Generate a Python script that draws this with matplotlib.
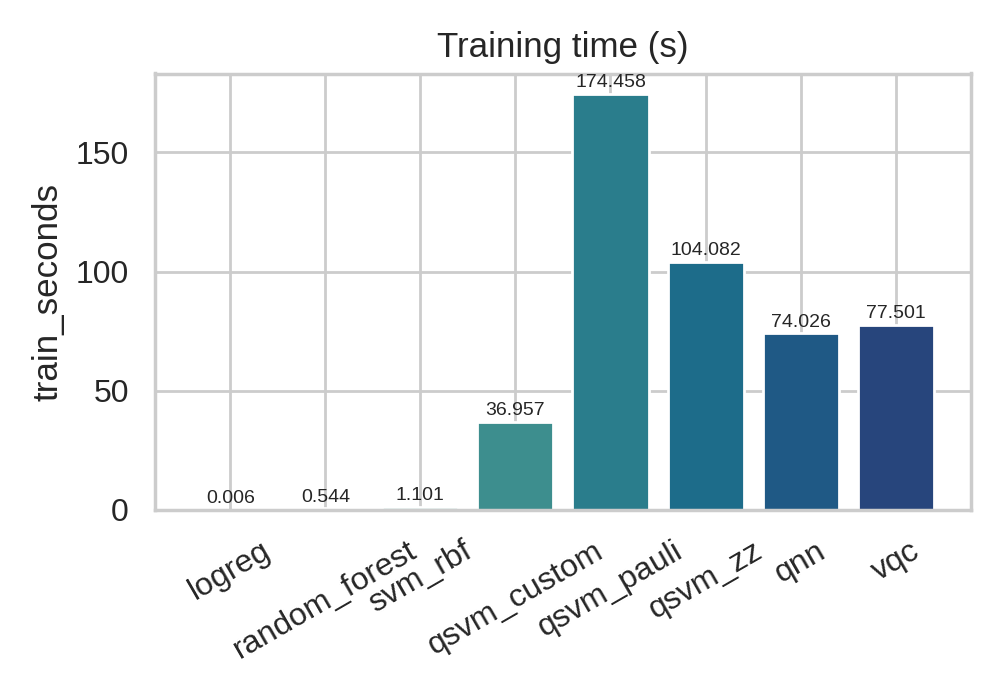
import matplotlib
matplotlib.use("Agg")
import matplotlib.pyplot as plt
import seaborn as sns

models = ["logreg", "random_forest", "svm_rbf", "qsvm_custom", "qsvm_pauli", "qsvm_zz", "qnn", "vqc"]
train_seconds = [0.006, 0.544, 1.101, 36.957, 174.458, 104.082, 74.026, 77.501]

sns.set_theme(style="whitegrid")
plt.rcParams['font.family'] = ['Liberation Sans', 'DejaVu Sans']

fig, ax = plt.subplots(figsize=(5.04, 3.5), dpi=200)
colors = sns.color_palette("crest", len(models))
bars = ax.bar(models, train_seconds, color=colors)
ax.bar_label(bars, labels=[f"{v:.3f}" for v in train_seconds], fontsize=7, padding=1)
ax.set_title("Training time (s)", fontsize=12.6)
ax.set_ylabel("train_seconds", fontsize=12.6)
ax.set_xlabel("")
ax.tick_params(axis="both", labelsize=11.5)
plt.setp(ax.get_xticklabels(), rotation=30, ha="center")
fig.subplots_adjust(left=0.154, right=0.963, top=0.895, bottom=0.272)
fig.savefig("out.png", dpi=200)
